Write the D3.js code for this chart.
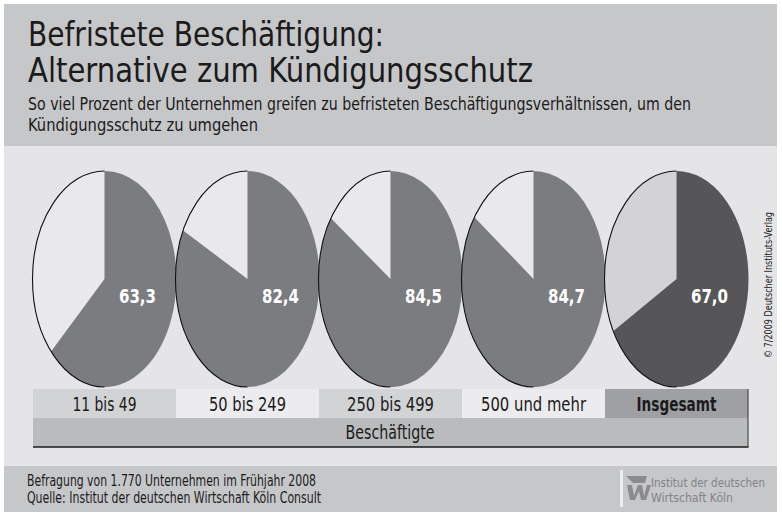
<!DOCTYPE html>
<html><head><meta charset="utf-8">
<script src="https://cdn.jsdelivr.net/npm/d3@7"></script>
<style>
html,body{margin:0;padding:0;background:#fff;}
svg{display:block;}
text{font-family:"DejaVu Sans Condensed","Liberation Sans Narrow",sans-serif;}
</style></head>
<body>
<script>
const categories = ["11 bis 49", "50 bis 249", "250 bis 499", "500 und mehr", "Insgesamt"];
const values = [63.3, 82.4, 84.5, 84.7, 67.0];
const valueLabels = ["63,3", "82,4", "84,5", "84,7", "67,0"];
const titleLines = ["Befristete Beschäftigung:", "Alternative zum Kündigungsschutz"];
const subtitleLines = ["So viel Prozent der Unternehmen greifen zu befristeten Beschäftigungsverhältnissen, um den", "Kündigungsschutz zu umgehen"];
const axisTitle = "Beschäftigte";
const footerLines = ["Befragung von 1.770 Unternehmen im Frühjahr 2008", "Quelle: Institut der deutschen Wirtschaft Köln Consult"];
const logoLines = ["Institut der deutschen", "Wirtschaft Köln"];
const copyright = "© 7/2009 Deutscher Instituts-Verlag";

const W = 782, H = 521;
const svg = d3.select("body").append("svg").attr("width", W).attr("height", H);

function txt(sel, s, x, y, size, len, opts = {}) {
  const t = sel.append("text").attr("x", x).attr("y", y).attr("font-size", size)
    .attr("fill", opts.fill || "#1b1b1b").text(s);
  if (opts.anchor) t.attr("text-anchor", opts.anchor);
  if (opts.weight) t.attr("font-weight", opts.weight);
  if (opts.family) t.attr("font-family", opts.family);
  if (len) t.attr("textLength", len).attr("lengthAdjust", "spacingAndGlyphs");
  return t;
}

// Panels
svg.append("rect").attr("x", 4).attr("y", 4).attr("width", 773).attr("height", 142).attr("fill", "#c6c7c9");
svg.append("rect").attr("x", 4).attr("y", 146).attr("width", 773).attr("height", 320).attr("fill", "#e5e5e7");
svg.append("rect").attr("x", 4).attr("y", 466).attr("width", 773).attr("height", 46).attr("fill", "#c6c7c9");

// Title
const titleLens = [356, 505];
titleLines.forEach((t, i) => txt(svg, t, 28, 46 + i * 36, 33, titleLens[i]));
const subLens = [663, 230];
subtitleLines.forEach((t, i) => txt(svg, t, 28, 110 + i * 21, 17, subLens[i]));

// Scales
const x = d3.scaleBand().domain(categories).range([33, 748]).padding(0);
const cy = 279, rx = 72, ry = 108;

const pie = d3.pie().sort(null).value(d => d);
const arc = d3.arc().innerRadius(0).outerRadius(1);
const outline = d3.arc().innerRadius(1).outerRadius(1).startAngle(Math.PI).endAngle(2 * Math.PI);

categories.forEach((c, i) => {
  const cx = x(c) + x.bandwidth() / 2;
  const total = i === categories.length - 1;
  const gg = svg.append("g").attr("transform", `translate(${cx},${cy}) scale(${rx},${ry})`);
  const arcs = pie([values[i], 100 - values[i]]);
  gg.append("path").attr("d", arc(arcs[1]))
    .attr("fill", total ? "#d3d3d5" : "#e9e9eb");
  gg.append("path").attr("d", arc(arcs[0]))
    .attr("fill", total ? "#565659" : "#7a7c7f");
  gg.append("path").attr("d", outline())
    .attr("fill", "none").attr("stroke", "#111").attr("stroke-width", 1.1)
    .attr("vector-effect", "non-scaling-stroke");
  txt(svg, valueLabels[i], cx + 33, cy + 24, 19.5, 37, { anchor: "middle", weight: "bold", fill: "#fff" });
});

// Category label row
const boxFills = ["#d2d3d5", "#ececee", "#d2d3d5", "#ececee", "#9fa0a3"];
const catLens = [64, 77, 87, 105, 80];
categories.forEach((c, i) => {
  svg.append("rect").attr("x", x(c)).attr("y", 389).attr("width", x.bandwidth()).attr("height", 29)
    .attr("fill", boxFills[i]);
  txt(svg, c, x(c) + x.bandwidth() / 2, 411, 19, catLens[i],
    { anchor: "middle", weight: i === categories.length - 1 ? "bold" : null });
});
// Axis title row
svg.append("rect").attr("x", 33).attr("y", 418).attr("width", 715).attr("height", 29).attr("fill", "#babbbd");
svg.append("line").attr("x1", 33).attr("x2", 748.5).attr("y1", 447).attr("y2", 447).attr("stroke", "#1a1a1a").attr("stroke-width", 1.3);
svg.append("line").attr("x1", 748).attr("x2", 748).attr("y1", 389).attr("y2", 447).attr("stroke", "#333").attr("stroke-width", 1);
txt(svg, axisTitle, 390, 439, 19, 89, { anchor: "middle" });

// Copyright
svg.append("text").attr("transform", "translate(772,285) rotate(-90)").attr("text-anchor", "middle")
  .attr("font-size", 11).attr("fill", "#222").attr("textLength", 146).attr("lengthAdjust", "spacingAndGlyphs")
  .text(copyright);

// Footer
const footLens = [289, 294];
footerLines.forEach((t, i) => txt(svg, t, 27, 486 + i * 17, 15, footLens[i]));

// Logo
const lg = svg.append("g");
lg.append("rect").attr("x", 620).attr("y", 470).attr("width", 3).attr("height", 37).attr("fill", "#efeff0");
lg.append("path").attr("d", "M626,476 L647,476 L645,483 L633,483 Z").attr("fill", "#8a8b8e");
lg.append("path").attr("d", "M627,485 L632,485 L634,496 L638,485 L642,485 L644,496 L647,485 L651,485 L646,500 L641,500 L639,491 L635,500 L630,500 Z").attr("fill", "#8a8b8e");
const logoLens = [114, 82];
logoLines.forEach((t, i) => txt(lg, t, 651, 487 + i * 15, 12, logoLens[i],
  { family: "'Liberation Sans',Arial,sans-serif", fill: "#838487" }));
</script>
</body></html>
